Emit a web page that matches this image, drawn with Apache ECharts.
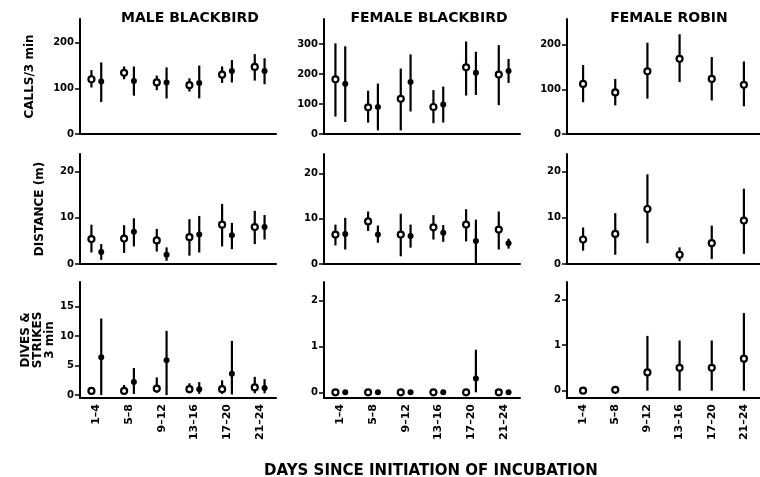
<!DOCTYPE html>
<html>
<head>
<meta charset="utf-8">
<script src="https://cdn.jsdelivr.net/npm/echarts@6/dist/echarts.min.js"></script>
<style>
  html, body { margin: 0; padding: 0; background: #fff; }
  #chart { width: 760px; height: 477px; }
</style>
</head>
<body>
<div id="chart"></div>
<script>
// day classes on the x axis
var days = ['1–4', '5–8', '9–12', '13–16', '17–20', '21–24'];

// each entry: [mean, low end of bar, high end of bar]
var maleCallsOpen = [[120, 102, 140], [134, 120, 148], [113, 96, 128], [107, 93, 122], [130, 112, 148], [147, 117, 175]];
var maleCallsFilled = [[115, 70, 157], [116, 84, 148], [113, 78, 146], [112, 78, 150], [138, 113, 162], [138, 109, 166]];
var femaleCallsOpen = [[182, 58, 302], [89, 38, 144], [117, 12, 218], [90, 36, 146], [222, 128, 308], [198, 96, 296]];
var femaleCallsFilled = [[167, 40, 292], [90, 12, 168], [173, 75, 265], [98, 38, 158], [204, 130, 274], [210, 170, 250]];
var robinCalls = [[112, 71, 154], [93, 64, 123], [140, 79, 204], [168, 116, 223], [123, 75, 172], [110, 62, 162]];

var maleDistOpen = [[5.4, 2.5, 8.5], [5.5, 2.4, 8.4], [5.1, 2.7, 7.6], [5.8, 1.8, 9.7], [8.5, 3.8, 13.0], [8.0, 4.3, 11.5]];
var maleDistFilled = [[2.6, 0.9, 4.3], [7.0, 3.8, 9.9], [2.0, 0.7, 3.6], [6.4, 2.5, 10.4], [6.2, 3.2, 8.9], [8.0, 5.3, 10.6]];
var femaleDistOpen = [[6.5, 4.1, 8.7], [9.4, 7.3, 11.6], [6.5, 1.7, 11.1], [8.1, 5.4, 10.8], [8.7, 5.0, 12.1], [7.6, 3.2, 11.6]];
var femaleDistFilled = [[6.6, 3.2, 10.2], [6.5, 4.7, 8.5], [6.2, 3.6, 8.7], [6.9, 4.9, 8.6], [5.1, 0, 9.8], [4.6, 3.4, 5.6]];
var robinDist = [[5.3, 2.9, 7.9], [6.5, 2.0, 11.0], [11.9, 4.5, 19.4], [2.0, 0.6, 3.6], [4.5, 1.1, 8.3], [9.4, 2.2, 16.3]];

var maleDivesOpen = [[0.7, 0.2, 1.3], [0.7, 0.3, 1.7], [1.1, 0.4, 3.0], [1.0, 0.3, 2.0], [1.0, 0.2, 2.5], [1.3, 0.3, 3.1]];
var maleDivesFilled = [[6.4, 0, 13], [2.2, 0.2, 4.6], [5.9, 0, 10.9], [1.0, 0.2, 2.2], [3.6, 0.1, 9.2], [1.2, 0.3, 2.7]];
var femaleDivesOpen = [[0, 0, 0], [0, 0, 0], [0, 0, 0], [0, 0, 0], [0, 0, 0], [0, 0, 0]];
var femaleDivesFilled = [[0, 0, 0], [0, 0, 0], [0, 0, 0], [0, 0, 0], [0.3, 0, 0.93], [0, 0, 0]];
var robinDives = [[0, 0, 0], [0.02, 0.02, 0.02], [0.4, 0, 1.2], [0.5, 0, 1.1], [0.5, 0, 1.1], [0.7, 0, 1.7]];

// y tick labels
var callsTicks = [0, 100, 200];
var femaleCallsTicks = [0, 100, 200, 300];
var distTicks = [0, 10, 20];
var maleDivesTicks = [0, 5, 10, 15];
var divesTicks = [0, 1, 2];

var FONT = 'DejaVu Sans';

var chart = echarts.init(document.getElementById('chart'));

// panel layout
var cols = [{ left: 80, width: 196 }, { left: 324, width: 196 }, { left: 567, width: 194 }];
var rows = [{ top: 19, height: 115 }, { top: 154, height: 110 }, { top: 282, height: 116 }];

var panels = [
    { r: 0, c: 0, min: 0, max: 252, ticks: callsTicks, name: 'CALLS/3 min', gap: 44,
      sets: [[maleCallsOpen, true, -0.15], [maleCallsFilled, false, 0.15]] },
    { r: 0, c: 1, min: 0, max: 383, ticks: femaleCallsTicks,
      sets: [[femaleCallsOpen, true, -0.15], [femaleCallsFilled, false, 0.15]] },
    { r: 0, c: 2, min: 0, max: 257, ticks: callsTicks, sets: [[robinCalls, true, 0]] },
    { r: 1, c: 0, min: 0, max: 23.8, ticks: distTicks, name: 'DISTANCE (m)', gap: 34,
      sets: [[maleDistOpen, true, -0.15], [maleDistFilled, false, 0.15]] },
    { r: 1, c: 1, min: 0, max: 24.3, ticks: distTicks,
      sets: [[femaleDistOpen, true, -0.15], [femaleDistFilled, false, 0.15]] },
    { r: 1, c: 2, min: 0, max: 23.8, ticks: distTicks, sets: [[robinDist, true, 0]] },
    { r: 2, c: 0, min: -0.5, max: 19.2, ticks: maleDivesTicks, name: 'DIVES &\nSTRIKES\n3 min', gap: 21,
      sets: [[maleDivesOpen, true, -0.15], [maleDivesFilled, false, 0.15]] },
    { r: 2, c: 1, min: -0.125, max: 2.41, ticks: divesTicks,
      sets: [[femaleDivesOpen, true, -0.15], [femaleDivesFilled, false, 0.15]] },
    { r: 2, c: 2, min: -0.16, max: 2.38, ticks: divesTicks, sets: [[robinDives, true, 0]] }
];

// error bar + circle for one point
function makeRender(shift, open) {
    return function (params, api) {
        var i = api.value(0);
        var c = api.coord([i, api.value(1)]);
        var lo = api.coord([i, api.value(2)]);
        var hi = api.coord([i, api.value(3)]);
        var x = c[0] + api.size([1, 0])[0] * shift;
        var children = [];
        if (lo[1] - hi[1] > 0.5) {
            children.push({
                type: 'line',
                shape: { x1: x, y1: lo[1], x2: x, y2: hi[1] },
                style: { stroke: '#000', lineWidth: 2.2 }
            });
        }
        children.push({
            type: 'circle',
            shape: { cx: x, cy: c[1], r: 3 },
            style: open ? { fill: '#fff', stroke: '#000', lineWidth: 2.2 } : { fill: '#000' }
        });
        return { type: 'group', children: children };
    };
}

var grids = [], xAxes = [], yAxes = [], series = [];
panels.forEach(function (p, k) {
    grids.push({ left: cols[p.c].left, width: cols[p.c].width, top: rows[p.r].top, height: rows[p.r].height });
    xAxes.push({
        gridIndex: k,
        type: 'category',
        data: days,
        boundaryGap: true,
        axisLine: { onZero: false, lineStyle: { color: '#000', width: 2 } },
        axisTick: { inside: true, length: 4, lineStyle: { color: '#000', width: 1.5 } },
        axisLabel: {
            show: p.r === 2, rotate: 90, margin: 6, interval: 0,
            fontFamily: FONT, fontSize: 11, fontWeight: 'bold', color: '#000'
        },
        splitLine: { show: false }
    });
    yAxes.push({
        gridIndex: k,
        type: 'value',
        min: p.min,
        max: p.max,
        axisLine: { show: true, onZero: false, lineStyle: { color: '#000', width: 2 } },
        axisTick: { show: true, length: 5, customValues: p.ticks, lineStyle: { color: '#000', width: 1.5 } },
        axisLabel: {
            customValues: p.ticks, margin: 6,
            fontFamily: FONT, fontSize: 10, fontWeight: 'bold', color: '#000'
        },
        splitLine: { show: false },
        name: p.name || '',
        nameLocation: 'middle',
        nameRotate: 90,
        nameGap: p.gap || 30,
        nameTextStyle: { fontFamily: FONT, fontSize: 12, fontWeight: 'bold', color: '#000', lineHeight: 12 }
    });
    p.sets.forEach(function (s) {
        series.push({
            type: 'custom',
            xAxisIndex: k,
            yAxisIndex: k,
            silent: true,
            renderItem: makeRender(s[2], s[1]),
            encode: { x: 0, y: [1, 2, 3] },
            data: s[0].map(function (d, i) { return [i, d[0], d[1], d[2]]; })
        });
    });
});

var titleStyle = { fontFamily: FONT, fontSize: 14, fontWeight: 'bold', color: '#000' };
var option = {
    animation: false,
    backgroundColor: '#fff',
    title: [
        { text: 'MALE BLACKBIRD', left: 185, top: 6, textAlign: 'center', textStyle: titleStyle },
        { text: 'FEMALE BLACKBIRD', left: 424, top: 6, textAlign: 'center', textStyle: titleStyle },
        { text: 'FEMALE ROBIN', left: 664, top: 6, textAlign: 'center', textStyle: titleStyle },
        { text: 'DAYS SINCE INITIATION OF INCUBATION', left: 426, top: 459, textAlign: 'center',
          textStyle: { fontFamily: FONT, fontSize: 15, fontWeight: 'bold', color: '#000' } }
    ],
    grid: grids,
    xAxis: xAxes,
    yAxis: yAxes,
    series: series
};

chart.setOption(option);
window.addEventListener('resize', function () {
    chart.resize();
});
</script>
</body>
</html>
